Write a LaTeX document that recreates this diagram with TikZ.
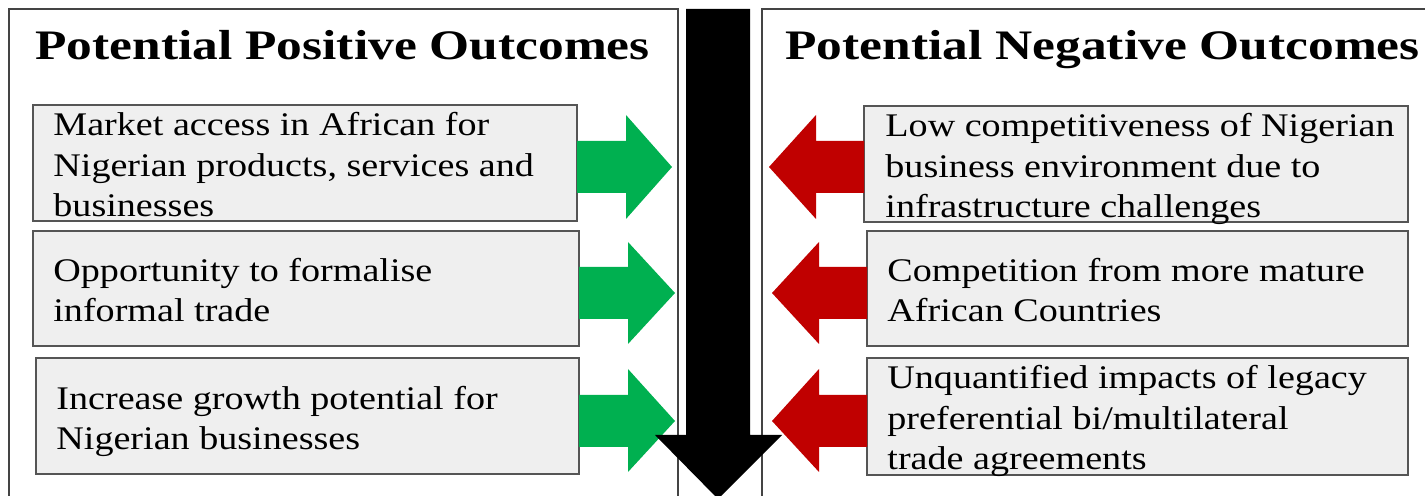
\documentclass[tikz,border=0pt]{standalone}
\usepackage{fontspec}
\setmainfont{Liberation Serif}
\newfontfamily\bodyfont[FakeStretch=1.155]{Liberation Serif}
\newfontfamily\titlefont[FakeStretch=1.225]{Liberation Serif}
\definecolor{posgreen}{HTML}{00B050}
\definecolor{negred}{HTML}{C00000}
\definecolor{boxfill}{HTML}{EFEFEF}
\definecolor{boxline}{HTML}{555555}
\definecolor{panelline}{HTML}{444444}
\begin{document}
\begin{tikzpicture}[x=0.5pt,y=-0.5pt,
  panel/.style={draw=panelline,line width=0.6pt},
  outbox/.style={draw=boxline,fill=boxfill,line width=0.6pt},
  boxtext/.style={anchor=base west,inner sep=0pt,align=left,font=\bodyfont\fontsize{16.5pt}{20.25pt}\selectfont},
  titletext/.style={anchor=base west,inner sep=0pt,font=\titlefont\bfseries\fontsize{21pt}{24pt}\selectfont},
  posarrow/.style={fill=posgreen,draw=none},
  negarrow/.style={fill=negred,draw=none}]
\useasboundingbox (0,0) rectangle (1425,496);
% panels
\draw[panel] (9,520) -- (9,9) -- (678,9) -- (678,520);
\draw[panel] (762,520) -- (762,9) -- (1440,9);
% titles
\node[titletext] (tpos) at (35,60) {Potential Positive Outcomes};
\node[titletext] (tneg) at (785,60) {Potential Negative Outcomes};
% left boxes
\filldraw[outbox] (33,105) rectangle (577,221);
\filldraw[outbox] (33,231) rectangle (579,346);
\filldraw[outbox] (36,358) rectangle (579,474);
\node[boxtext] (p1) at (53,217) {Market access in African for\\Nigerian products, services and\\businesses};
\node[boxtext] (p2) at (53,322) {Opportunity to formalise\\informal trade};
\node[boxtext] (p3) at (56,450) {Increase growth potential for\\Nigerian businesses};
% right boxes
\filldraw[outbox] (864,106) rectangle (1408,222);
\filldraw[outbox] (867,231) rectangle (1408,346);
\filldraw[outbox] (867,358) rectangle (1408,475);
\node[boxtext] (n1) at (885,218) {Low competitiveness of Nigerian\\business environment due to\\infrastructure challenges};
\node[boxtext] (n2) at (887,322) {Competition from more mature\\African Countries};
\node[boxtext] (n3) at (887,470) {Unquantified impacts of legacy\\preferential bi/multilateral\\trade agreements};
% green arrows
\fill[posarrow] (577,141) -- (626,141) -- (626,115) -- (672,167) -- (626,219) -- (626,193) -- (577,193) -- cycle;
\fill[posarrow] (579,267) -- (628,267) -- (628,242) -- (675,293) -- (628,344) -- (628,319) -- (579,319) -- cycle;
\fill[posarrow] (579,395) -- (628,395) -- (628,369) -- (675,421) -- (628,472) -- (628,447) -- (579,447) -- cycle;
% red arrows
\fill[negarrow] (864,141) -- (816,141) -- (816,115) -- (769,167) -- (816,219) -- (816,193) -- (864,193) -- cycle;
\fill[negarrow] (867,267) -- (819,267) -- (819,242) -- (772,293) -- (819,344) -- (819,319) -- (867,319) -- cycle;
\fill[negarrow] (867,395) -- (819,395) -- (819,369) -- (772,421) -- (819,472) -- (819,447) -- (867,447) -- cycle;
% black down arrow
\fill[black] (686,9) -- (750,9) -- (750,435) -- (782,435) -- (718,499) -- (655,435) -- (686,435) -- cycle;
\end{tikzpicture}
\end{document}
